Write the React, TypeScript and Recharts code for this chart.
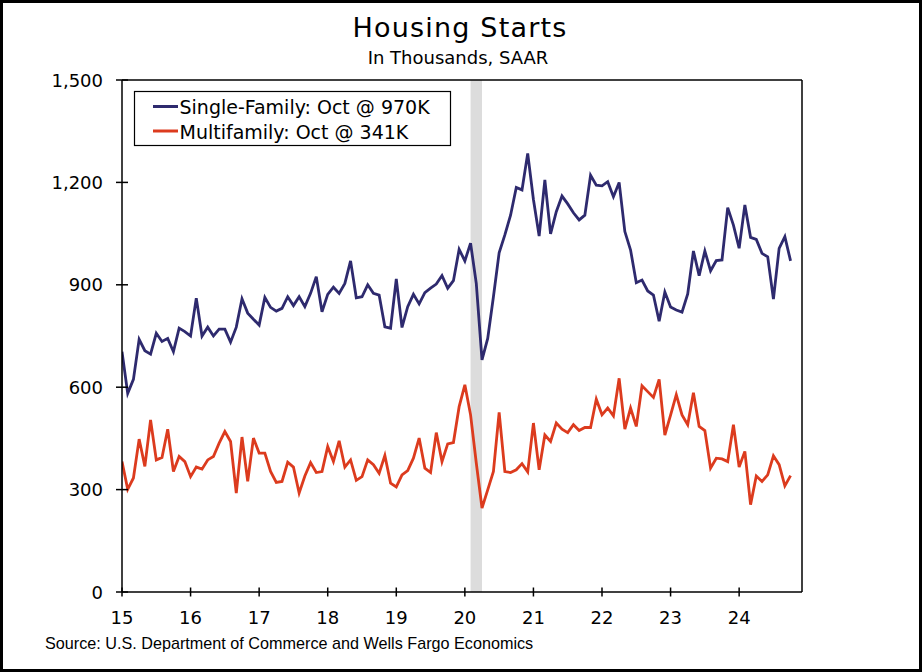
import React from "react";
import { LineChart, Line, XAxis, YAxis, ReferenceArea, ReferenceLine } from "recharts";

// monthly, Jan 2015 .. Oct 2024 (thousands, SAAR)
const singleFamily = [
  704, 582, 623, 740, 707, 697, 758, 734, 743, 704, 773, 763,
  750, 861, 750, 776, 750, 770, 770, 732, 776, 859, 817, 799,
  782, 863, 834, 823, 831, 865, 839, 865, 836, 875, 924, 821,
  872, 893, 875, 904, 970, 862, 865, 900, 875, 870, 777, 773,
  917, 775, 836, 872, 844, 877, 890, 902, 927, 890, 912, 1004,
  970, 1022, 904, 680, 743, 865, 994, 1046, 1104, 1185, 1178, 1285,
  1150, 1043, 1207, 1049, 1114, 1160, 1137, 1111, 1090, 1104, 1221, 1192,
  1190, 1202, 1158, 1200, 1056, 1002, 906, 914, 882, 870, 793, 879,
  835, 826, 820, 873, 999, 927, 999, 941, 971, 973, 1126, 1075,
  1007, 1134, 1039, 1033, 992, 982, 858, 1007, 1041, 970,
];

const multifamily = [
  382, 301, 334, 448, 368, 504, 387, 394, 477, 353, 397, 382,
  338, 366, 360, 387, 397, 436, 470, 441, 290, 454, 324, 451,
  407, 407, 353, 321, 324, 380, 366, 290, 340, 379, 350, 353,
  426, 382, 443, 366, 387, 327, 338, 387, 373, 348, 400, 319,
  308, 343, 356, 392, 451, 363, 350, 467, 382, 434, 438, 543,
  607, 519, 378, 246, 299, 353, 526, 353, 350, 358, 376, 352,
  495, 358, 460, 441, 495, 477, 467, 490, 473, 482, 482, 565,
  519, 539, 516, 626, 477, 539, 485, 604, 587, 570, 623, 460,
  518, 578, 519, 490, 584, 485, 473, 363, 392, 390, 382, 490,
  366, 412, 256, 340, 324, 343, 399, 373, 311, 341,
];

const yearLabels = ["15", "16", "17", "18", "19", "20", "21", "22", "23", "24"];
const yTicks = [0, 300, 600, 900, 1200, 1500];
const recession = [61, 63]; // Feb 2020 - Apr 2020

const data = singleFamily.map((sf, i) => ({ i, sf, mf: multifamily[i] }));
const xTicks = yearLabels.map((_, k) => k * 12);

const SF_COLOR = "#2e2a6e";
const MF_COLOR = "#dc3b1e";
const FONT = "'DejaVu Sans', Verdana, sans-serif";

const XTick = (props: any) => {
  const { x, y, payload } = props;
  return (
    <g>
      <line x1={x} x2={x} y1={y - 4.5} y2={y + 4.5} stroke="#000" strokeWidth={1.5} />
      <text x={x} y={y + 32} textAnchor="middle" fontSize={18} fontFamily={FONT} fill="#000">
        {yearLabels[Math.round(payload.value / 12)]}
      </text>
    </g>
  );
};

const LeftTick = (props: any) => {
  const { x, y, payload } = props;
  return (
    <g>
      <line x1={x - 6} x2={x + 6} y1={y} y2={y} stroke="#000" strokeWidth={1.5} />
      <text x={x - 19} y={y + 6.5} textAnchor="end" fontSize={18} fontFamily={FONT} fill="#000">
        {payload.value.toLocaleString("en-US")}
      </text>
    </g>
  );
};

const RightTick = (props: any) => {
  const { x, y, payload } = props;
  return (
    <g>
      <line x1={x - 6} x2={x + 6} y1={y} y2={y} stroke="#000" strokeWidth={1.5} />
      <text x={x + 20} y={y + 6.5} textAnchor="start" fontSize={18} fontFamily={FONT} fill="#000">
        {payload.value.toLocaleString("en-US")}
      </text>
    </g>
  );
};

export default function App() {
  return (
    <div style={{ position: "absolute", left: 0, top: 0, width: 922, height: 672, background: "#fff" }}>
      <LineChart
        width={922}
        height={672}
        data={data}
        margin={{ top: 80, right: 60, bottom: 50, left: 62 }}
      >
        <XAxis
          dataKey="i"
          type="number"
          domain={[0, 119]}
          ticks={xTicks}
          height={30}
          tickSize={0}
          tickMargin={0}
          tick={<XTick />}
          axisLine={{ stroke: "#000", strokeWidth: 1.5 }}
          allowDataOverflow
        />
        <YAxis
          yAxisId="left"
          domain={[0, 1500]}
          ticks={yTicks}
          width={60}
          tickSize={0}
          tickMargin={0}
          tick={<LeftTick />}
          axisLine={{ stroke: "#000", strokeWidth: 1.5 }}
        />
        <YAxis
          yAxisId="right"
          orientation="right"
          domain={[0, 1500]}
          ticks={yTicks}
          width={60}
          tickSize={0}
          tickMargin={0}
          tick={<RightTick />}
          axisLine={{ stroke: "#000", strokeWidth: 1.5 }}
        />
        <ReferenceArea
          yAxisId="left"
          x1={recession[0]}
          x2={recession[1]}
          y1={0}
          y2={1500}
          fill="#dcdcdc"
          fillOpacity={1}
          stroke="none"
        />
        <ReferenceLine yAxisId="left" y={1500} stroke="#000" strokeWidth={1.5} />
        <Line
          yAxisId="left"
          dataKey="sf"
          stroke={SF_COLOR}
          strokeWidth={2.8}
          dot={false}
          isAnimationActive={false}
        />
        <Line
          yAxisId="left"
          dataKey="mf"
          stroke={MF_COLOR}
          strokeWidth={2.8}
          dot={false}
          isAnimationActive={false}
        />
      </LineChart>

      <svg
        width={922}
        height={672}
        style={{ position: "absolute", left: 0, top: 0, pointerEvents: "none" }}
      >
        <text x={460} y={37} textAnchor="middle" fontSize={27} letterSpacing={1.2} fontFamily={FONT} fill="#000">
          Housing Starts
        </text>
        <text x={458} y={64} textAnchor="middle" fontSize={18} fontFamily={FONT} fill="#000">
          In Thousands, SAAR
        </text>

        <rect x={134.5} y={91.5} width={316} height={54} fill="#fff" stroke="#000" strokeWidth={1.2} />
        <line x1={153} x2={178} y1={106.5} y2={106.5} stroke={SF_COLOR} strokeWidth={3} />
        <text x={179.5} y={114} fontSize={19} fontFamily={FONT} fill="#000">
          Single-Family: Oct @ 970K
        </text>
        <line x1={153} x2={178} y1={131} y2={131} stroke={MF_COLOR} strokeWidth={3} />
        <text x={179.5} y={138.5} fontSize={19} fontFamily={FONT} fill="#000">
          Multifamily: Oct @ 341K
        </text>

        <text x={45} y={649} fontSize={16.2} fontFamily="'Liberation Sans', Arial, sans-serif" fill="#000">
          Source: U.S. Department of Commerce and Wells Fargo Economics
        </text>

        <rect x={1.5} y={1.5} width={919} height={669} fill="none" stroke="#000" strokeWidth={3} />
      </svg>
    </div>
  );
}
